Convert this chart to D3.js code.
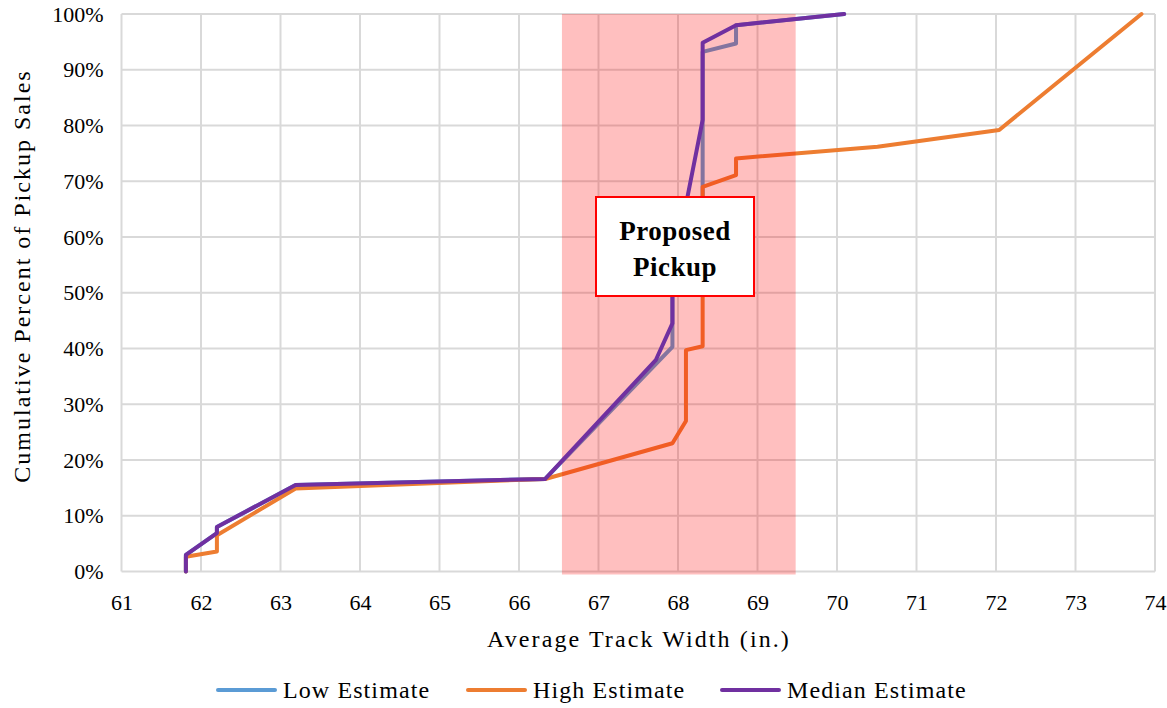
<!DOCTYPE html>
<html><head><meta charset="utf-8">
<script src="https://cdn.jsdelivr.net/npm/d3@7"></script>
<style>
html,body{margin:0;padding:0;background:#fff;}
svg text{font-family:'Liberation Serif','Times New Roman',Tinos,Times,'Nimbus Roman','DejaVu Serif',serif !important;fill:#000;}
</style></head>
<body><svg id="c" width="1167" height="708"></svg>
<script>
// ---- data ----
const xTicks = [61,62,63,64,65,66,67,68,69,70,71,72,73,74];
const yTicks = [0,10,20,30,40,50,60,70,80,90,100];
const seriesNames = ["Low Estimate","High Estimate","Median Estimate"];
const seriesColors = ["#5b9bd5","#ed7d31","#7030a0"];
const lowX = [61.81,61.81,62.2,62.2,63.19,66.33,67.93,67.93,68.31,68.31,68.73,68.73,70.09];
const lowY = [0,3,6.9,8.0,15.5,16.6,40.3,50,60,93.2,94.7,98,100];
const highX = [61.81,61.81,62.2,62.2,63.19,66.33,67.93,68.1,68.1,68.31,68.31,68.73,68.73,70.51,72.04,73.83];
const highY = [0,2.65,3.6,6.5,14.9,16.6,23.0,27.0,39.7,40.4,69.0,71.1,74.1,76.2,79.2,100];
const medX = [61.81,61.81,62.2,62.2,63.19,66.33,67.72,67.93,67.93,68.31,68.31,68.73,70.09];
const medY = [0,3,6.9,8.0,15.5,16.6,37.9,44.5,53.5,81,94.85,98,100];
const band = [66.54, 69.48];
const bandLabel = ["Proposed","Pickup"];

const FONT = "'Liberation Serif','Times New Roman',Tinos,Times,'Nimbus Roman','DejaVu Serif',serif";

// ---- scales ----
const svg = d3.select("#c");
const x = d3.scaleLinear().domain([61,74]).range([121.5,1155]);
const y = d3.scaleLinear().domain([0,100]).range([571.5,14]);

// grid
const g = svg.append("g");
g.selectAll("line.v").data(xTicks).join("line")
  .attr("x1",d=>x(d)).attr("x2",d=>x(d)).attr("y1",y(0)).attr("y2",y(100))
  .attr("stroke","#d9d9d9").attr("stroke-width",2);
g.selectAll("line.h").data(yTicks).join("line")
  .attr("x1",x(61)).attr("x2",x(74)).attr("y1",d=>y(d)).attr("y2",d=>y(d))
  .attr("stroke","#d9d9d9").attr("stroke-width",2);

// axis labels via d3 axes
const xAxis = svg.append("g").attr("transform",`translate(0,${y(0)})`)
  .call(d3.axisBottom(x).tickValues(xTicks).tickSize(0).tickPadding(23).tickFormat(d3.format("d")));
xAxis.attr("font-family",null).attr("font-size",null);
xAxis.select(".domain").remove();
xAxis.selectAll("text").style("font-family",FONT).style("font-size","22px");
const yAxis = svg.append("g").attr("transform",`translate(${x(61)},0)`)
  .call(d3.axisLeft(y).tickValues(yTicks).tickSize(0).tickPadding(18).tickFormat(d=>d+"%"));
yAxis.attr("font-family",null).attr("font-size",null);
yAxis.select(".domain").remove();
yAxis.selectAll("text").style("font-family",FONT).style("font-size","22px");

const line = d3.line().x(d=>x(d[0])).y(d=>y(d[1]));
const zip = (a,b)=>a.map((v,i)=>[v,b[i]]);
function drawSeries(xs,ys,color){
  svg.append("path").datum(zip(xs,ys)).attr("d",line)
    .attr("fill","none").attr("stroke",color).attr("stroke-width",4)
    .attr("stroke-linejoin","round").attr("stroke-linecap","round");
}
drawSeries(lowX,lowY,seriesColors[0]);
drawSeries(highX,highY,seriesColors[1]);

// band
svg.append("rect").attr("x",x(band[0])).attr("y",y(100))
  .attr("width",x(band[1])-x(band[0])).attr("height",y(0)-y(100)+3)
  .attr("fill","rgba(255,0,0,0.25)");

drawSeries(medX,medY,seriesColors[2]);

// label box
svg.append("rect").attr("x",596).attr("y",197).attr("width",158).attr("height",99)
  .attr("fill","#fff").attr("stroke","#ff0000").attr("stroke-width",2);
svg.append("text").attr("x",675).attr("y",240).attr("text-anchor","middle").style("font-family",FONT)
  .style("font-size","27px").attr("font-weight","bold").attr("letter-spacing",0.5).text(bandLabel[0]);
svg.append("text").attr("x",675).attr("y",276).attr("text-anchor","middle").style("font-family",FONT)
  .style("font-size","27px").attr("font-weight","bold").attr("letter-spacing",0.5).text(bandLabel[1]);

// axis titles
svg.append("text").attr("x",639).attr("y",647).attr("text-anchor","middle").style("font-family",FONT)
  .style("font-size","24px").attr("letter-spacing",2.1).text("Average Track Width (in.)");
svg.append("text").attr("transform","translate(30,276) rotate(-90)").attr("text-anchor","middle").style("font-family",FONT)
  .style("font-size","24px").attr("letter-spacing",2.0).text("Cumulative  Percent of Pickup  Sales");

// legend
const legX = [218,468,722];
const leg = svg.append("g");
seriesNames.forEach((n,i)=>{
  leg.append("line").attr("x1",legX[i]).attr("x2",legX[i]+57).attr("y1",690).attr("y2",690)
    .attr("stroke",seriesColors[i]).attr("stroke-width",4).attr("stroke-linecap","round");
  leg.append("text").attr("x",legX[i]+65).attr("y",698).style("font-family",FONT).style("font-size","24px")
    .attr("letter-spacing",1.1).text(n);
});
</script></body></html>
